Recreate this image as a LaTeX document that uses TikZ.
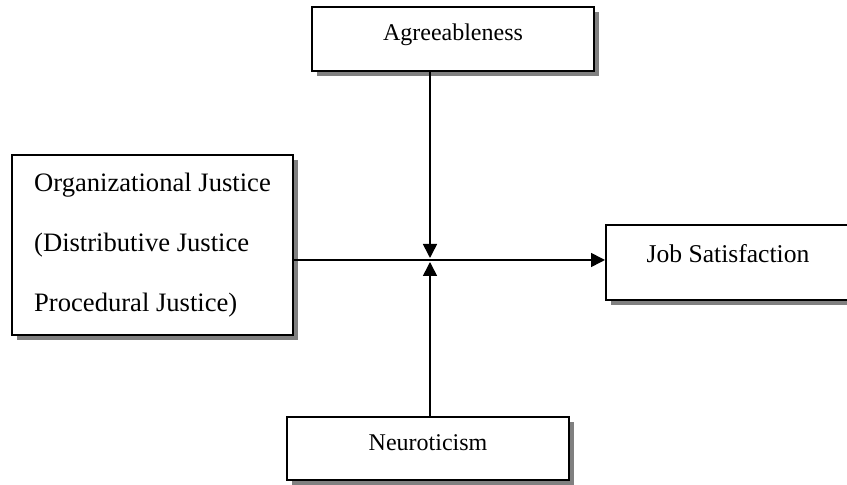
\documentclass[tikz,border=0pt]{standalone}
\usepackage{fontspec}
\setmainfont{Liberation Serif}
\usetikzlibrary{arrows.meta, shadows, calc}

\begin{document}
\begin{tikzpicture}[x=0.5pt, y=-0.5pt,
    box/.style={rectangle, draw=black, line width=1pt, fill=white, inner sep=0pt,
        drop shadow={shadow xshift=2.5pt, shadow yshift=-2.5pt, fill=black!50, opacity=1}},
    link/.style={-{Triangle[length=7pt, width=7pt]}, line width=0.8pt}]
    \useasboundingbox (0,0) rectangle (847,485);
    \clip (0,0) rectangle (847,485);

    % Moderators
    \node[box, minimum width=141pt, minimum height=32pt, font=\fontsize{12}{14}\selectfont,
        text height=9pt, text depth=7pt] (agree) at (453,39) {Agreeableness};
    \node[box, minimum width=141pt, minimum height=31.5pt, font=\fontsize{12}{14}\selectfont,
        text height=9pt, text depth=6.5pt] (neuro) at (428,448.5) {Neuroticism};

    % Predictor and outcome
    \node[box, minimum width=140.5pt, minimum height=90pt, align=left,
        font=\fontsize{13.3}{30}\selectfont] (org) at (152.5,245)
        {Organizational Justice\\(Distributive Justice\\Procedural Justice)};
    \node[box, minimum width=122pt, minimum height=37.5pt, font=\fontsize{12.8}{15}\selectfont,
        text height=9pt, text depth=9.4pt] (job) at (728,262.5) {Job Satisfaction};

    % Meeting point
    \coordinate (mid) at (430,260);

    % Connections
    \draw[link] (org.east |- mid) -- (job.west |- mid);
    \draw[link, shorten >=1pt] (agree.south -| mid) -- (mid);
    \draw[link, shorten >=1pt] (neuro.north -| mid) -- (mid);
\end{tikzpicture}
\end{document}
